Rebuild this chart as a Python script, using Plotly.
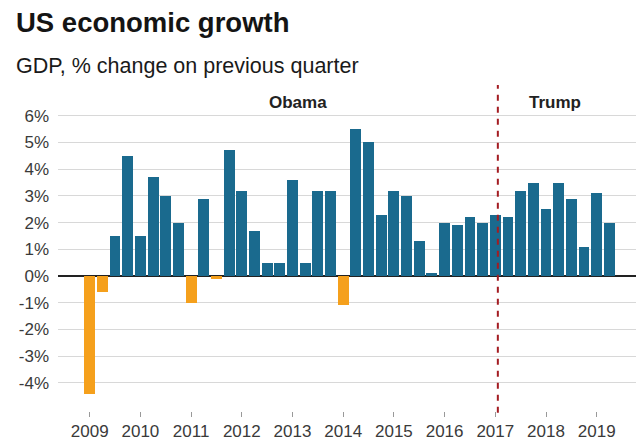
import plotly.graph_objects as go

quarters = [f"{y}Q{q}" for y in range(2009, 2020) for q in range(1, 5)][:42]
gdp_growth = [
    -4.4, -0.6, 1.5, 4.5,
    1.5, 3.7, 3.0, 2.0,
    -1.0, 2.9, -0.1, 4.7,
    3.2, 1.7, 0.5, 0.5,
    3.6, 0.5, 3.2, 3.2,
    -1.1, 5.5, 5.0, 2.3,
    3.2, 3.0, 1.3, 0.1,
    2.0, 1.9, 2.2, 2.0,
    2.3, 2.2, 3.2, 3.5,
    2.5, 3.5, 2.9, 1.1,
    3.1, 2.0,
]
year_ticks = list(range(2009, 2020))
y_ticks = list(range(-4, 7))
y_tick_labels = [f"{v}%" for v in y_ticks]

x_pos = [int(q[:4]) + (int(q[-1]) - 1) / 4 for q in quarters]
colors = ["#1a6a8e" if v >= 0 else "#f5a01c" for v in gdp_growth]

FONT = "Liberation Sans, Arial, sans-serif"

fig = go.Figure()
fig.add_trace(go.Bar(
    x=x_pos, y=gdp_growth, width=0.215,
    marker=dict(color=colors, line=dict(width=0)),
    hoverinfo="x+y", showlegend=False,
))

fig.add_shape(type="line", xref="x", yref="paper", x0=2017.05, x1=2017.05, y0=-0.005, y1=1,
              line=dict(color="#a31c22", width=2, dash="6px,6px"))

fig.add_annotation(x=2013.11, y=6.5, xref="x", yref="y", text="<b>Obama</b>", showarrow=False,
                   font=dict(family=FONT, size=17, color="#222"))
fig.add_annotation(x=2018.18, y=6.5, xref="x", yref="y", text="<b>Trump</b>", showarrow=False,
                   font=dict(family=FONT, size=17, color="#222"))

# Title and subtitle
fig.add_annotation(x=(14 - 58) / 578, y=(411 - 23) / 326, xref="paper", yref="paper",
                   xanchor="left", yanchor="middle", text="<b>US economic growth</b>",
                   showarrow=False, font=dict(family=FONT, size=27.5, color="#141414"))
fig.add_annotation(x=(14 - 58) / 578, y=(411 - 66) / 326, xref="paper", yref="paper",
                   xanchor="left", yanchor="middle", text="GDP, % change on previous quarter",
                   showarrow=False, font=dict(family=FONT, size=21.5, color="#1a1a1a"))

fig.update_layout(
    width=636, height=440,
    margin=dict(l=58, r=0, t=85, b=29),
    paper_bgcolor="white", plot_bgcolor="white",
    bargap=0,
    font=dict(family=FONT, size=17, color="#3a3a3a"),
    xaxis=dict(
        range=[2008.375, 2019.775], tickvals=year_ticks, ticktext=[str(y) for y in year_ticks],
        ticks="outside", ticklen=5, tickcolor="#999", tickwidth=1,
        showgrid=False, zeroline=False, showline=False,
        tickfont=dict(size=17, color="#3a3a3a"), fixedrange=True,
    ),
    yaxis=dict(
        range=[-5.05, 7.15], tickvals=y_ticks, ticktext=y_tick_labels,
        showgrid=True, gridcolor="#d8d8d8", gridwidth=1,
        zeroline=True, zerolinecolor="#222", zerolinewidth=1.5,
        showline=False, ticks="", ticklabelstandoff=8,
        tickfont=dict(size=17, color="#3a3a3a"), fixedrange=True,
    ),
)

fig.write_html("out.html")
